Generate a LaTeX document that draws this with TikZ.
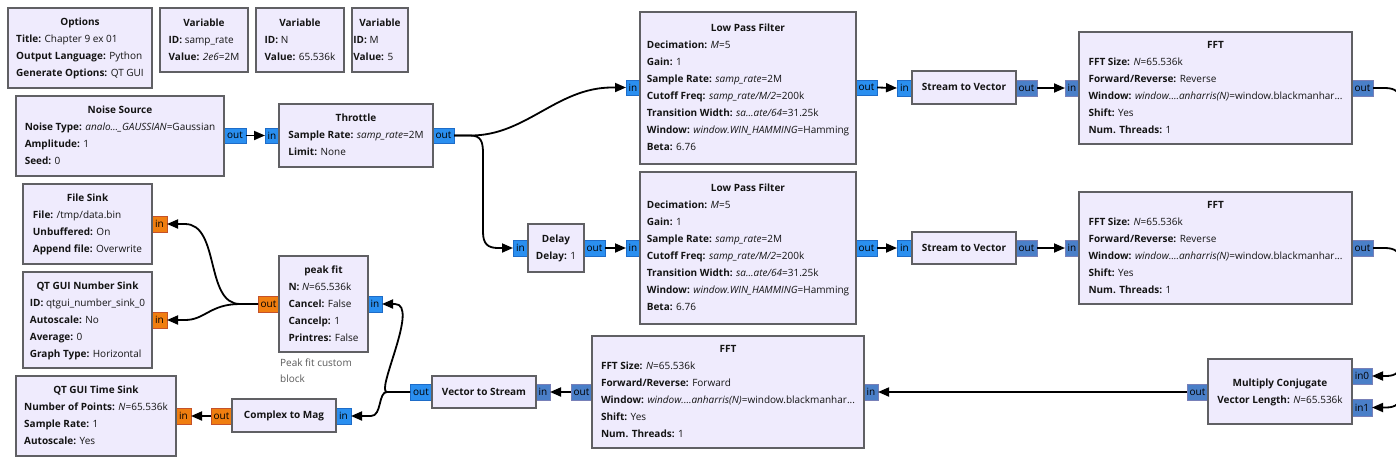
\documentclass[tikz,border=0pt]{standalone}
\usepackage{fontspec}
\setmainfont{Open Sans}
\usetikzlibrary{arrows.meta,calc}
\definecolor{blkfill}{RGB}{239,235,253}
\definecolor{blkline}{RGB}{96,96,100}
\definecolor{cplxfill}{RGB}{42,143,240}
\definecolor{cplxline}{RGB}{30,108,200}
\definecolor{vecfill}{RGB}{74,127,200}
\definecolor{vecline}{RGB}{120,128,184}
\definecolor{fltfill}{RGB}{240,126,16}
\definecolor{fltline}{RGB}{196,82,42}
\definecolor{txt}{RGB}{20,20,20}
\definecolor{notecol}{RGB}{90,90,90}
\newcommand\ttl[1]{\multicolumn{1}{c}{\bfseries #1}}
\newcommand\kv[2]{\textbf{#1:} #2}
\newcommand\ex[2]{\textit{#1}=#2}
\newcommand\lpf{\ttl{Low Pass Filter}\\ \kv{Decimation}{\ex{M}{5}}\\ \kv{Gain}{1}\\ \kv{Sample Rate}{\ex{samp\_rate}{2M}}\\ \kv{Cutoff Freq}{\ex{samp\_rate/M/2}{200k}}\\ \kv{Transition Width}{\ex{sa...ate/64}{31.25k}}\\ \kv{Window}{\ex{window.WIN\_HAMMING}{Hamming}}\\ \kv{Beta}{6.76}}
\newcommand\fft[1]{\ttl{FFT}\\ \kv{FFT Size}{\ex{N}{65.536k}}\\ \kv{Forward/Reverse}{#1}\\ \kv{Window}{\ex{window....anharris(N)}{window.blackmanhar...}}\\ \kv{Shift}{Yes}\\ \kv{Num. Threads}{1}}
\newcommand\blk[6]{\node[blk, minimum width={#4-#2}, minimum height={#5-#3}] (#1) at ({(#2+#4)/2},{(#3+#5)/2}) {\begin{tabular}{@{}l@{}}#6\end{tabular}};}
\newcommand\prt[7]{\node[prt, #2, minimum width={#5-#3}, minimum height={#6-#4}] (#1) at ({(#3+#5)/2},{(#4+#6)/2}) {#7};}
\begin{document}
\begin{tikzpicture}[x=1pt,y=-1pt,
 blk/.style={draw=blkline, fill=blkfill, line width=2pt, inner sep=0pt, outer sep=0pt, rectangle, text=txt, font=\fontsize{10}{17}\selectfont},
 prt/.style={line width=1pt, inner sep=0pt, outer sep=0pt, rectangle, font=\fontsize{10}{10}\selectfont, text=black},
 cplx/.style={fill=cplxfill, draw=cplxline},
 vec/.style={fill=vecfill, draw=vecline},
 flt/.style={fill=fltfill, draw=fltline},
 conn/.style={line width=1.8pt, draw=black, -{Triangle[length=11pt,width=9pt]}},
 notetext/.style={text=notecol, font=\fontsize{10}{16}\selectfont, align=left, inner sep=0pt, anchor=north west}]
\useasboundingbox (0,0) rectangle (1396,464);
\fill[white] (0,0) rectangle (1396,464);
\clip (0,0) rectangle (1396,464);
% ports
\prt{ns_o}{cplx}{224}{128}{246}{143}{out}
\prt{thr_i}{cplx}{265}{128}{279}{143}{in}
\prt{thr_o}{cplx}{433}{128}{454}{143}{out}
\prt{lpfa_i}{cplx}{626}{80}{640}{95}{in}
\prt{lpfa_o}{cplx}{856}{80}{877}{95}{out}
\prt{stva_i}{cplx}{897}{80}{912}{96}{in}
\prt{stva_o}{vec}{1016}{80}{1037}{96}{out}
\prt{ffta_i}{vec}{1065}{80}{1079}{96}{in}
\prt{ffta_o}{vec}{1352}{80}{1373}{96}{out}
\prt{dl_i}{cplx}{513}{240}{528}{256}{in}
\prt{dl_o}{cplx}{584}{240}{605}{256}{out}
\prt{lpfb_i}{cplx}{626}{240}{640}{256}{in}
\prt{lpfb_o}{cplx}{856}{240}{877}{256}{out}
\prt{stvb_i}{cplx}{897}{240}{912}{256}{in}
\prt{stvb_o}{vec}{1016}{240}{1037}{256}{out}
\prt{fftb_i}{vec}{1065}{240}{1079}{256}{in}
\prt{fftb_o}{vec}{1352}{240}{1373}{256}{out}
\prt{mc_o}{vec}{1187}{384}{1208}{400}{out}
\prt{mc_ia}{vec}{1352}{368}{1372}{384}{in0}
\prt{mc_ib}{vec}{1352}{399}{1372}{416}{in1}
\prt{fftc_i}{vec}{864}{384}{878}{400}{in}
\prt{fftc_o}{vec}{571}{384}{592}{400}{out}
\prt{vts_i}{vec}{536}{384}{550}{400}{in}
\prt{vts_o}{cplx}{410}{384}{432}{400}{out}
\prt{pf_i}{cplx}{368}{296}{382}{312}{in}
\prt{pf_o}{flt}{258}{296}{279}{312}{out}
\prt{fs_i}{flt}{152}{216}{167}{232}{in}
\prt{nsk_i}{flt}{152}{312}{167}{328}{in}
\prt{c2m_i}{cplx}{336}{408}{351}{424}{in}
\prt{c2m_o}{flt}{211}{408}{232}{424}{out}
\prt{ts_i}{flt}{176}{408}{191}{424}{in}
% blocks
\blk{opt}{8}{8}{152}{88}{\ttl{Options}\\ \kv{Title}{Chapter 9 ex 01}\\ \kv{Output Language}{Python}\\ \kv{Generate Options}{QT GUI}}
\blk{v1}{160}{8}{248}{72}{\ttl{Variable}\\ \kv{ID}{samp\_rate}\\ \kv{Value}{\ex{2e6}{2M}}}
\blk{v2}{256}{8}{344}{72}{\ttl{Variable}\\ \kv{ID}{N}\\ \kv{Value}{65.536k}}
\blk{v3}{352}{8}{408}{72}{\ttl{Variable}\\ \kv{ID}{M}\\ \kv{Value}{5}}
\blk{ns}{16}{96}{224}{176}{\ttl{Noise Source}\\ \kv{Noise Type}{\ex{analo...\_GAUSSIAN}{Gaussian}}\\ \kv{Amplitude}{1}\\ \kv{Seed}{0}}
\blk{thr}{279}{104}{433}{167}{\ttl{Throttle}\\ \kv{Sample Rate}{\ex{samp\_rate}{2M}}\\ \kv{Limit}{None}}
\blk{lpfa}{640}{12}{856}{164}{\lpf}
\blk{lpfb}{640}{172}{856}{324}{\lpf}
\blk{dl}{528}{224}{584}{272}{\ttl{Delay}\\ \kv{Delay}{1}}
\blk{stva}{912}{71}{1016}{104}{\ttl{Stream to Vector}}
\blk{stvb}{912}{232}{1016}{264}{\ttl{Stream to Vector}}
\blk{ffta}{1079}{32}{1352}{144}{\fft{Reverse}}
\blk{fftb}{1079}{192}{1352}{304}{\fft{Reverse}}
\blk{fftc}{592}{336}{864}{448}{\fft{Forward}}
\blk{vts}{432}{376}{536}{408}{\ttl{Vector to Stream}}
\blk{mc}{1208}{359}{1352}{424}{\ttl{Multiply Conjugate}\\ \kv{Vector Length}{\ex{N}{65.536k}}}
\blk{fs}{23}{184}{152}{264}{\ttl{File Sink}\\ \kv{File}{/tmp/data.bin}\\ \kv{Unbuffered}{On}\\ \kv{Append file}{Overwrite}}
\blk{nsk}{23}{272}{152}{368}{\ttl{QT GUI Number Sink}\\ \kv{ID}{qtgui\_number\_sink\_0}\\ \kv{Autoscale}{No}\\ \kv{Average}{0}\\ \kv{Graph Type}{Horizontal}}
\blk{pf}{279}{256}{368}{352}{\ttl{peak fit}\\ \kv{N}{\ex{N}{65.536k}}\\ \kv{Cancel}{False}\\ \kv{Cancelp}{1}\\ \kv{Printres}{False}}
\blk{ts}{16}{376}{176}{456}{\ttl{QT GUI Time Sink}\\ \kv{Number of Points}{\ex{N}{65.536k}}\\ \kv{Sample Rate}{1}\\ \kv{Autoscale}{Yes}}
\blk{c2m}{232}{399}{336}{432}{\ttl{Complex to Mag}}
\node[notetext] (pfnote) at (280,359) {Peak fit custom\\block};
% connectors
\draw[conn] (ns_o.east) -- (thr_i.west);
\draw[conn] (thr_o.east) -- ++(17,0) .. controls +(55,0) and +(-55,0) .. ($(lpfa_i.west)+(-14,0)$) -- (lpfa_i.west);
\draw[conn] (thr_o.east) -- ++(16,0) .. controls +(11,0) and +(0,-12) .. ++(13,18) -- ($(dl_i.west)+(-30,-16)$) .. controls +(0,12) and +(-10,0) .. ($(dl_i.west)+(-15,0)$) -- (dl_i.west);
\draw[conn] (dl_o.east) -- (lpfb_i.west);
\draw[conn] (lpfa_o.east) -- (stva_i.west);
\draw[conn] (lpfb_o.east) -- (stvb_i.west);
\draw[conn] (stva_o.east) -- (ffta_i.west);
\draw[conn] (stvb_o.east) -- (fftb_i.west);
\draw[conn] (ffta_o.east) -- ++(12,0) .. controls +(10,0) and +(0,-12) .. ++(16,16) -- ($(mc_ia.east)+(29,-16)$) .. controls +(0,12) and +(10,0) .. ($(mc_ia.east)+(14,0)$) -- (mc_ia.east);
\draw[conn] (fftb_o.east) -- ++(12,0) .. controls +(10,0) and +(0,-12) .. ++(16,16) -- ($(mc_ib.east)+(29,-16)$) .. controls +(0,12) and +(10,0) .. ($(mc_ib.east)+(14,0)$) -- (mc_ib.east);
\draw[conn] (mc_o.west) -- (fftc_i.east);
\draw[conn] (fftc_o.west) -- (vts_i.east);
\draw[conn] (vts_o.west) -- ++(-23,0) .. controls +(-12,0) and +(25,0) .. ($(pf_i.east)+(13,0)$) -- (pf_i.east);
\draw[conn] (vts_o.west) -- ++(-23,0) .. controls +(-9,0) and +(11,0) .. ($(c2m_i.east)+(20,0)$) -- (c2m_i.east);
\draw[conn] (pf_o.west) -- ++(-18,0) .. controls +(-35,0) and +(35,0) .. ($(fs_i.east)+(18,0)$) -- (fs_i.east);
\draw[conn] (pf_o.west) -- ++(-18,0) .. controls +(-30,0) and +(20,0) .. ($(nsk_i.east)+(18,0)$) -- (nsk_i.east);
\draw[conn] (c2m_o.west) -- (ts_i.east);
\end{tikzpicture}
\end{document}
